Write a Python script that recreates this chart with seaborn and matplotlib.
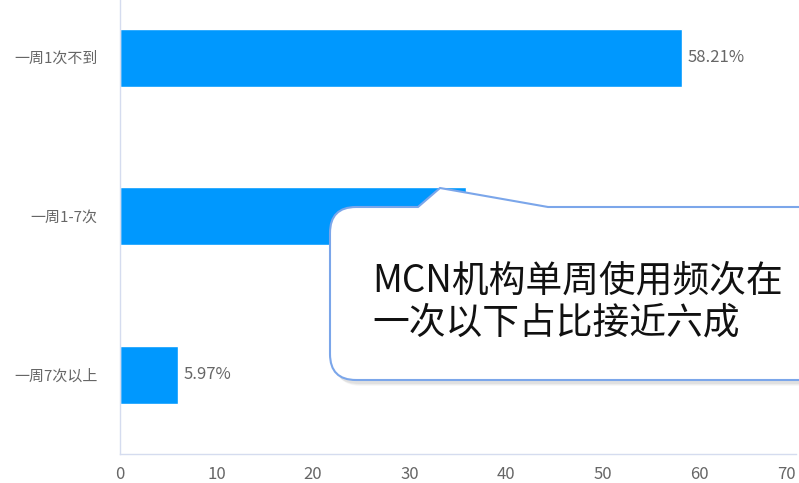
import matplotlib
matplotlib.use("Agg")
import matplotlib.pyplot as plt
from matplotlib.path import Path
from matplotlib.patches import PathPatch
import pandas as pd
import seaborn as sns

categories = ["一周1次不到", "一周1-7次", "一周7次以上"]
shares = [58.21, 35.82, 5.97]
x_ticks = [0, 10, 20, 30, 40, 50, 60, 70]
callout_text = "MCN机构单周使用频次在\n一次以下占比接近六成"

sns.set_theme(style="white")
plt.rcParams['font.family'] = ['Noto Sans CJK SC', 'DejaVu Sans']

df = pd.DataFrame({"类别": categories, "占比": shares})

fig = plt.figure(figsize=(7.99, 4.83), dpi=100)
ax = fig.add_axes([120 / 799, 29 / 483, 675.5 / 799, 454 / 483])
sns.barplot(data=df, y="类别", x="占比", color="#0098fe", width=0.365,
            saturation=1, orient="h", ax=ax)

for i, v in enumerate(shares):
    ax.text(v + 0.6, i, f"{v:.2f}%", va="center", ha="left",
            fontsize=12, color="#666666")

ax.set_xlim(0, 70)
ax.set_ylim(2.5, -0.363)
ax.set_xticks(x_ticks)
ax.set_xlabel("")
ax.set_ylabel("")
ax.tick_params(axis="both", length=0, colors="#666666")
ax.tick_params(axis="x", pad=8.5, labelsize=12)
ax.tick_params(axis="y", pad=16, labelsize=10.8)
ax.get_xticklabels()[-1].set_horizontalalignment("right")
for side in ["top", "right"]:
    ax.spines[side].set_visible(False)
for side in ["left", "bottom"]:
    ax.spines[side].set_color("#d5dcef")
    ax.spines[side].set_linewidth(1)

# callout bubble, drawn in pixel coordinates on an overlay
ov = fig.add_axes([0, 0, 1, 1])
ov.set_xlim(0, 799)
ov.set_ylim(483, 0)
ov.axis("off")


def bubble(dx=0, dy=0):
    r = 26
    x0, x1, y0, y1 = 330 + dx, 830 + dx, 207 + dy, 380 + dy
    verts = [
        (x0 + r, y0), (418 + dx, y0), (440 + dx, 188 + dy), (548 + dx, y0),
        (x1, y0), (x1, y1), (x0 + r, y1),
        (x0, y1), (x0, y1 - r),
        (x0, y0 + r),
        (x0, y0), (x0 + r, y0),
        (x0 + r, y0),
    ]
    codes = [Path.MOVETO, Path.LINETO, Path.LINETO, Path.LINETO,
             Path.LINETO, Path.LINETO, Path.LINETO,
             Path.CURVE3, Path.CURVE3,
             Path.LINETO,
             Path.CURVE3, Path.CURVE3,
             Path.CLOSEPOLY]
    return Path(verts, codes)


for k, a in enumerate([0.05, 0.04, 0.03]):
    ov.add_patch(PathPatch(bubble(3 + k, 4 + k), facecolor="black",
                           edgecolor="none", alpha=a))
ov.add_patch(PathPatch(bubble(), facecolor="white", edgecolor="#7ba6ea",
                       linewidth=1.5))
ov.text(372, 302, callout_text, ha="left", va="center", fontsize=26.5,
        color="#111111", linespacing=1.13)

fig.savefig("out.png", dpi=100)
